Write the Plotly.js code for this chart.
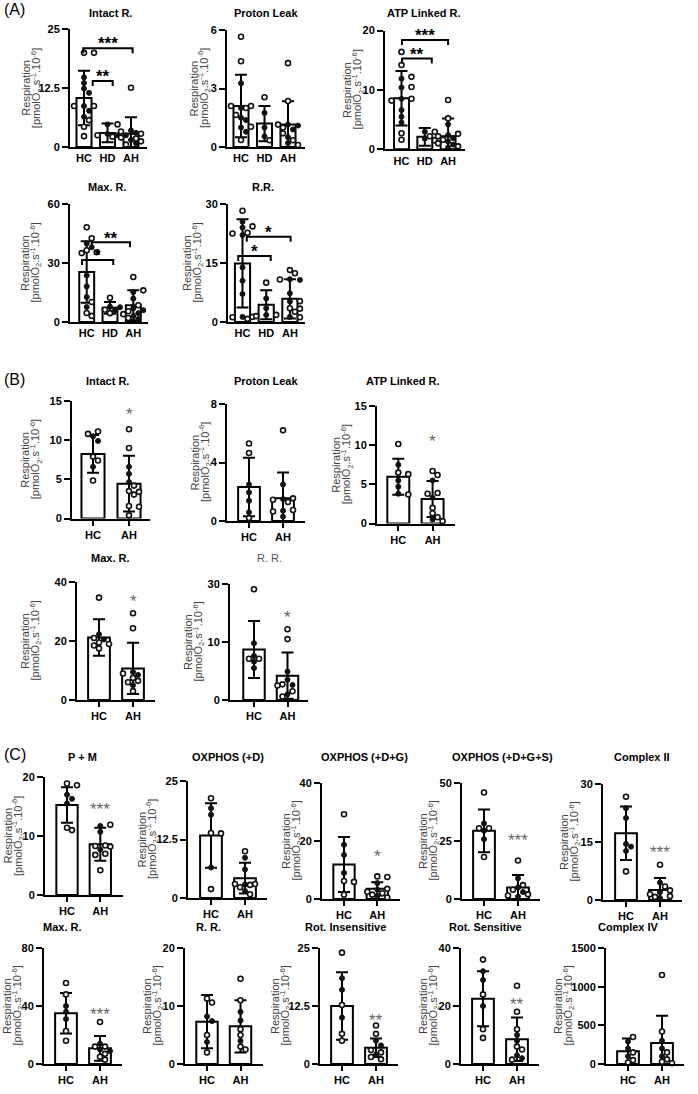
<!DOCTYPE html>
<html><head><meta charset="utf-8">
<script src="https://cdn.plot.ly/plotly-3.0.1.min.js"></script>
<style>html,body{margin:0;padding:0;background:#fff}#chart{width:698px;height:1094px}</style>
</head><body><div id="chart"></div>
<script>
// ---------------- DATA ----------------
const CAT3 = ['HC', 'HD', 'AH'];
const CAT2 = ['HC', 'AH'];

// Panel A
const aIntactMean = [10.4, 3.0, 2.8];
const aIntactSD = [5.8, 2.0, 3.5];
const aIntactOpen = [[20.0, 20.0, 8.7, 8.7, 5.7, 4.3, 2.3], [4.8, 2.5, 2.2], [12.6, 3.3, 2.8, 2.0, 1.8, 1.2, 0.5]];
const aIntactFilled = [[14.8, 13.6, 12.4, 11.5, 8.7, 7.7, 6.4], [4.8, 2.8, 2.5], [3.5, 3.0, 2.5, 1.5, 0.8]];

const aProtonMean = [2.1, 1.2, 1.15];
const aProtonSD = [1.6, 0.9, 1.2];
const aProtonOpen = [[5.65, 4.4, 2.1, 2.1, 2.0, 1.64, 1.04, 0.36], [2.55, 0.35], [4.3, 2.36, 1.15, 1.0, 0.7, 0.35, 0.1]];
const aProtonFilled = [[3.27, 2.0, 1.5, 1.38, 1.0, 0.78], [1.75, 1.0, 0.55], [1.15, 1.1, 0.9, 0.5, 0.2]];

const aAtpMean = [8.6, 2.1, 2.2];
const aAtpSD = [4.6, 1.5, 3.0];
const aAtpOpen = [[16.4, 14.2, 12.2, 10.5, 8.5, 8.2, 2.7, 1.6], [2.95, 2.2, 1.5], [8.3, 5.2, 2.6, 2.2, 1.6, 1.0, 0.5]];
const aAtpFilled = [[11.9, 10.4, 8.5, 6.6, 5.5, 4.5], [2.95, 1.8], [4.2, 2.4, 1.9, 1.3, 0.8, 0.3]];

const aMaxMean = [25.4, 7.2, 8.5];
const aMaxSD = [15.6, 3.0, 7.6];
const aMaxOpen = [[48.2, 42.6, 36.5, 35.5, 35.0, 10.2, 4.6, 3.1], [12.3, 6.2, 4.5], [22.9, 16.1, 8.5, 5.5, 4.0, 2.0]];
const aMaxFilled = [[40.0, 38.0, 23.7, 18.1, 12.7, 7.6], [7.8, 7.5, 5.8], [15.2, 11.9, 7.0, 6.0, 4.5, 3.0, 1.5]];

const aRRMean = [14.9, 4.4, 5.9];
const aRRSD = [11.2, 3.7, 5.0];
const aRROpen = [[28.3, 24.3, 22.7, 22.5, 1.3, 1.2, 0.8], [10.0, 1.8, 1.5], [13.2, 12.4, 10.8, 5.3, 3.5, 3.4, 2.6, 1.2]];
const aRRFilled = [[25.5, 24.0, 22.1, 13.9, 10.5, 7.1, 1.3], [6.0, 3.5, 1.8], [10.9, 10.7, 7.3, 5.2, 1.3]];

// Panel B
const bIntactMean = [8.25, 4.45];
const bIntactSD = [2.4, 3.55];
const bIntactOpen = [[11.1, 10.8, 7.9, 7.4, 4.85], [11.4, 9.0, 4.2, 3.5, 3.4, 3.05, 1.6, 1.5, 0.4]];
const bIntactFilled = [[10.5, 9.9, 6.6], [6.6, 5.7, 4.65]];

const bProtonMean = [2.33, 1.56];
const bProtonSD = [2.0, 1.75];
const bProtonOpen = [[5.3, 4.65, 0.2], [6.2, 1.55, 1.45, 1.3, 0.75, 0.65]];
const bProtonFilled = [[2.5, 1.95, 1.38, 0.6], [2.5, 1.5, 0.7, 0.3]];

const bAtpMean = [5.98, 3.12];
const bAtpSD = [2.3, 2.3];
const bAtpOpen = [[10.15, 6.5, 6.3, 3.7], [6.7, 6.2, 3.9, 3.8, 2.0, 1.3, 0.8, 0.3]];
const bAtpFilled = [[7.5, 5.5, 4.7, 3.8], [5.5, 3.3, 0.5]];

const bMaxMean = [21.2, 10.7];
const bMaxSD = [6.2, 8.7];
const bMaxOpen = [[34.7, 21.0, 19.5, 19.0, 18.5, 17.5], [29.4, 24.3, 9.0, 7.5, 6.5, 6.0, 3.0]];
const bMaxFilled = [[22.3, 20.5], [9.5, 8.5, 5.0]];

const bRRMean = [8.7, 4.2];
const bRRSD = [4.9, 4.0];
const bRROpen = [[19.1, 7.1, 7.1], [12.2, 10.5, 2.7, 2.5, 1.5, 0.6]];
const bRRFilled = [[9.8, 7.6, 6.6, 5.5], [4.9, 3.5, 2.6, 1.0]];
const bRRTickText = ['0', '10', '30'];

// Panel C, row 1
const cPMMean = [15.25, 8.6];
const cPMSD = [3.0, 2.8];
const cPMOpen = [[18.9, 18.6, 11.4, 11.0], [11.9, 8.4, 8.3, 8.2, 7.0, 6.8, 4.2]];
const cPMFilled = [[17.0, 16.3, 15.5], [11.7, 10.7, 7.7]];

const cDMean = [13.35, 4.24];
const cDSD = [6.9, 3.3];
const cDOpen = [[21.3, 13.9, 13.8, 1.9], [10.0, 3.0, 3.0, 2.8, 2.3, 0.8]];
const cDFilled = [[19.2, 17.8, 6.5], [8.6, 6.1, 2.9, 1.5]];

const cDGMean = [11.9, 3.5];
const cDGSD = [9.5, 2.3];
const cDGOpen = [[29.2, 6.2, 5.9, 1.5], [7.8, 7.6, 3.5, 2.5, 2.0, 1.5, 0.5]];
const cDGFilled = [[18.7, 15.2, 9.0], [5.5, 3.2, 1.0]];

const cDGSMean = [29.4, 5.0];
const cDGSSD = [9.2, 5.3];
const cDGSOpen = [[45.9, 30.5, 30.5, 18.1], [16.6, 6.0, 4.0, 2.0, 1.5]];
const cDGSFilled = [[32.6, 29.4, 25.8], [8.9, 5.0, 3.0, 1.0]];

const cC2Mean = [17.25, 2.6];
const cC2SD = [6.9, 3.1];
const cC2Open = [[26.7, 7.4], [9.1, 3.5, 2.5, 1.5, 1.0, 0.8]];
const cC2Filled = [[23.75, 21.2, 14.5, 13.8, 12.7], [4.5, 2.0, 0.5]];

// Panel C, row 2
const cMaxMean = [35.0, 10.8];
const cMaxSD = [14.0, 8.5];
const cMaxOpen = [[55.9, 48.0, 22.8, 16.0], [29.0, 12.0, 12.0, 7.0, 5.0, 3.0]];
const cMaxFilled = [[40.0, 36.0, 31.0], [14.0, 10.0, 9.0]];

const cRRMean = [7.3, 6.5];
const cRRSD = [4.6, 4.5];
const cRROpen = [[11.3, 10.6, 5.0, 2.0], [14.7, 11.0, 6.0, 5.0, 3.0, 2.5]];
const cRRFilled = [[8.2, 7.4, 3.8], [9.0, 7.5, 4.0]];

const cRIMean = [12.5, 3.5];
const cRISD = [7.3, 2.0];
const cRIOpen = [[24.0, 12.7, 6.5, 5.0], [8.3, 6.5, 3.0, 2.5, 1.5, 1.0]];
const cRIFilled = [[18.5, 16.0, 10.0], [5.0, 4.0, 2.0]];

const cRSMean = [22.5, 8.5];
const cRSSD = [9.5, 7.5];
const cRSOpen = [[36.0, 24.0, 12.0, 9.0], [27.0, 18.0, 12.0, 6.0, 5.0, 1.5]];
const cRSFilled = [[32.0, 29.0, 20.0], [10.0, 8.0, 3.0, 2.0]];

const cC4Mean = [165, 270];
const cC4SD = [165, 355];
const cC4Open = [[350, 150, 50, 20], [1150, 420, 150, 60, 30, 10]];
const cC4Filled = [[290, 200, 100], [300, 200, 100]];

// ---------------- LAYOUT SPEC (positions in px of a 698x1094 page) ----------------
const W = 698, H = 1094;
const FONT = 'Liberation Sans, Arial, Helvetica, sans-serif';
const panels = [
  {cats: CAT3, title: 'Intact R.', mean: aIntactMean, sd: aIntactSD, open: aIntactOpen, filled: aIntactFilled, ticks: [0, 12.5, 25],
   xL: 70, xR: 147, c0: 84, sp: 23.5, yTop: 29.3, yZero: 147, tx: 110, ty: 13, ytx: 31.5, xt: false,
   br: [{x1: 0.37, x2: 1.22, y: 14.0, t: '**'}, {x1: -0.03, x2: 2.07, y: 21.0, t: '***'}]},
  {cats: CAT3, title: 'Proton Leak', mean: aProtonMean, sd: aProtonSD, open: aProtonOpen, filled: aProtonFilled, ticks: [0, 3, 6],
   xL: 227, xR: 305, c0: 241, sp: 23.5, yTop: 30, yZero: 147, tx: 266, ty: 13, ytx: 199, xt: false},
  {cats: CAT3, title: 'ATP Linked R.', mean: aAtpMean, sd: aAtpSD, open: aAtpOpen, filled: aAtpFilled, ticks: [0, 10, 20],
   xL: 385, xR: 465, c0: 401.5, sp: 23.3, yTop: 30.5, yZero: 149.3, tx: 424, ty: 13, ytx: 352, xt: false,
   br: [{x1: 0.02, x2: 1.3, y: 15.3, t: '**'}, {x1: 0.02, x2: 2.0, y: 18.4, t: '***'}]},
  {cats: CAT3, title: 'Max. R.', mean: aMaxMean, sd: aMaxSD, open: aMaxOpen, filled: aMaxFilled, ticks: [0, 30, 60],
   xL: 70, xR: 148, c0: 86.7, sp: 23.3, yTop: 204, yZero: 322, tx: 107, ty: 187, ytx: 30, xt: false,
   br: [{x1: -0.2, x2: 1.14, y: 31.5, t: '*'}, {x1: 0.22, x2: 1.86, y: 40.5, t: '**'}]},
  {cats: CAT3, title: 'R.R.', mean: aRRMean, sd: aRRSD, open: aRROpen, filled: aRRFilled, ticks: [0, 15, 30],
   xL: 228, xR: 305, c0: 242.5, sp: 23.7, yTop: 204, yZero: 322, tx: 263, ty: 187, ytx: 192, xt: false,
   br: [{x1: -0.18, x2: 1.19, y: 16.8, t: '*'}, {x1: 0.18, x2: 2.03, y: 21.7, t: '*'}]},

  {cats: CAT2, title: 'Intact R.', mean: bIntactMean, sd: bIntactSD, open: bIntactOpen, filled: bIntactFilled, ticks: [0, 5, 10, 15],
   xL: 72, xR: 150, c0: 93, sp: 36, yTop: 401, yZero: 518.5, tx: 107, ty: 381, ytx: 30, xt: true, star: {t: '*', y: 13.7}},
  {cats: CAT2, title: 'Proton Leak', mean: bProtonMean, sd: bProtonSD, open: bProtonOpen, filled: bProtonFilled, ticks: [0, 4, 8],
   xL: 227, xR: 305, c0: 249, sp: 34, yTop: 404, yZero: 521, tx: 266, ty: 381, ytx: 199, xt: true},
  {cats: CAT2, title: 'ATP Linked R.', mean: bAtpMean, sd: bAtpSD, open: bAtpOpen, filled: bAtpFilled, ticks: [0, 5, 10, 15],
   xL: 377, xR: 455, c0: 398.3, sp: 34.3, yTop: 406, yZero: 523.5, tx: 403, ty: 381, ytx: 341, xt: true, star: {t: '*', y: 11.0}},
  {cats: CAT2, title: 'Max. R.', mean: bMaxMean, sd: bMaxSD, open: bMaxOpen, filled: bMaxFilled, ticks: [0, 20, 40],
   xL: 77, xR: 155, c0: 99, sp: 34, yTop: 582, yZero: 700, tx: 110, ty: 558, ytx: 30, xt: true, star: {t: '*', y: 34.5}},
  {cats: CAT2, title: 'R. R.', plain: true, mean: bRRMean, sd: bRRSD, open: bRROpen, filled: bRRFilled, ticks: [0, 10, 20], tickText: bRRTickText,
   xL: 230, xR: 308, c0: 254, sp: 33.5, yTop: 584, yZero: 700, tx: 269, ty: 558, ytx: 193, xt: true, star: {t: '*', y: 14.9}},

  {cats: CAT2, title: 'P + M', mean: cPMMean, sd: cPMSD, open: cPMOpen, filled: cPMFilled, ticks: [0, 10, 20],
   xL: 45, xR: 123, c0: 67, sp: 33.3, yTop: 777, yZero: 895, tx: 82, ty: 757, ytx: 12.5, xt: true, star: {t: '***', y: 15.1}},
  {cats: CAT2, title: 'OXPHOS (+D)', mean: cDMean, sd: cDSD, open: cDOpen, filled: cDFilled, ticks: [0, 12.5, 25],
   xL: 188, xR: 267, c0: 211, sp: 34, yTop: 781, yZero: 898, tx: 228, ty: 757, ytx: 146, xt: true},
  {cats: CAT2, title: 'OXPHOS (+D+G)', mean: cDGMean, sd: cDGSD, open: cDGOpen, filled: cDGFilled, ticks: [0, 20, 40],
   xL: 322, xR: 400, c0: 344, sp: 33.3, yTop: 783, yZero: 899, tx: 365, ty: 757, ytx: 291, xt: true, star: {t: '*', y: 15.9}},
  {cats: CAT2, title: 'OXPHOS (+D+G+S)', mean: cDGSMean, sd: cDGSSD, open: cDGSOpen, filled: cDGSFilled, ticks: [0, 25, 50],
   xL: 462, xR: 540, c0: 484, sp: 34, yTop: 783, yZero: 899, tx: 502, ty: 757, ytx: 428, xt: true, star: {t: '***', y: 27}},
  {cats: CAT2, title: 'Complex II', mean: cC2Mean, sd: cC2SD, open: cC2Open, filled: cC2Filled, ticks: [0, 15, 30],
   xL: 603, xR: 682, c0: 626, sp: 34, yTop: 784, yZero: 900, tx: 642, ty: 757, ytx: 569, xt: true, star: {t: '***', y: 13.25}},

  {cats: CAT2, title: 'Max. R.', mean: cMaxMean, sd: cMaxSD, open: cMaxOpen, filled: cMaxFilled, ticks: [0, 40, 80],
   xL: 44, xR: 122, c0: 66, sp: 34, yTop: 948, yZero: 1064, tx: 62, ty: 927, ytx: 12, xt: true, star: {t: '***', y: 36.5}},
  {cats: CAT2, title: 'R. R.', mean: cRRMean, sd: cRRSD, open: cRROpen, filled: cRRFilled, ticks: [0, 10, 20],
   xL: 185, xR: 263, c0: 207, sp: 33.5, yTop: 948, yZero: 1064, tx: 208, ty: 927, ytx: 152, xt: true},
  {cats: CAT2, title: 'Rot. Insensitive', mean: cRIMean, sd: cRISD, open: cRIOpen, filled: cRIFilled, ticks: [0, 12.5, 25],
   xL: 320, xR: 398, c0: 342, sp: 34, yTop: 948, yZero: 1064, tx: 345, ty: 927, ytx: 280, xt: true, star: {t: '**', y: 10.2}},
  {cats: CAT2, title: 'Rot. Sensitive', mean: cRSMean, sd: cRSSD, open: cRSOpen, filled: cRSFilled, ticks: [0, 20, 40],
   xL: 461, xR: 539, c0: 483, sp: 34, yTop: 948, yZero: 1064, tx: 485, ty: 927, ytx: 428, xt: true, star: {t: '**', y: 21.7}},
  {cats: CAT2, title: 'Complex IV', mean: cC4Mean, sd: cC4SD, open: cC4Open, filled: cC4Filled, ticks: [0, 500, 1000, 1500],
   xL: 606, xR: 684, c0: 628, sp: 34, yTop: 948, yZero: 1064, tx: 628, ty: 927, ytx: 563, xt: true},
];

const panelLetters = [{t: '(A)', y: 10}, {t: '(B)', y: 379}, {t: '(C)', y: 754}];

// ---------------- helpers ----------------
const fx = p => p / W;
const fy = p => 1 - p / H;

// simple beeswarm: returns points with horizontal pixel offsets (kept within +-2 steps)
function swarm(openVals, filledVals, ppu) {
  const pts = [];
  filledVals.forEach(v => pts.push({v: v, f: true}));
  openVals.forEach(v => pts.push({v: v, f: false}));
  pts.sort((a, b) => (a.f === b.f) ? b.v - a.v : (a.f ? -1 : 1));
  const placed = [], D = 5.4, step = 5;
  const cands = [0, 1, -1, 2, -2];
  pts.forEach(p => {
    let best = null, bestGap = -1, bestOx = 0;
    for (const k of cands) {
      const ox = k * step;
      let gap = Infinity;
      for (const q of placed) {
        const dx = ox - q.ox, dy = (p.v - q.v) * ppu;
        gap = Math.min(gap, Math.sqrt(dx * dx + dy * dy));
      }
      if (gap >= D) { best = ox; break; }
      if (gap > bestGap) { bestGap = gap; bestOx = ox; }
    }
    p.ox = best === null ? bestOx : best;
    placed.push(p);
  });
  return pts;
}

const traces = [], shapes = [], annotations = [];
const layout = {
  width: W, height: H, margin: {l: 0, r: 0, t: 0, b: 0},
  paper_bgcolor: '#ffffff', plot_bgcolor: 'rgba(0,0,0,0)', showlegend: false,
  font: {family: FONT, color: '#000'}
};

panels.forEach((p, i) => {
  const n = i + 1;
  const xk = n === 1 ? 'xaxis' : 'xaxis' + n;
  const yk = n === 1 ? 'yaxis' : 'yaxis' + n;
  const xr = n === 1 ? 'x' : 'x' + n;
  const yr = n === 1 ? 'y' : 'y' + n;
  const ymax = p.ticks[p.ticks.length - 1];
  const ppu = (p.yZero - p.yTop) / ymax;
  const idx = p.cats.map((c, k) => k);

  layout[xk] = {
    domain: [fx(p.xL), fx(p.xR)], range: [(p.xL - p.c0) / p.sp, (p.xR - p.c0) / p.sp],
    anchor: yr, tickvals: idx, ticktext: p.cats,
    ticks: p.xt ? 'outside' : '', ticklen: 5, tickwidth: 2, tickcolor: '#000',
    showline: true, linewidth: 2, linecolor: '#000', showgrid: false, zeroline: false,
    tickfont: {family: FONT, size: 11, color: '#000', weight: 'bold'}, fixedrange: true
  };
  layout[yk] = {
    domain: [fy(p.yZero), fy(p.yTop)], range: [0, ymax], anchor: xr,
    tickvals: p.ticks, ticktext: p.tickText || p.ticks.map(String),
    ticks: 'outside', ticklen: 6, tickwidth: 2, tickcolor: '#000',
    showline: true, linewidth: 2, linecolor: '#000', showgrid: false, zeroline: false,
    tickfont: {family: FONT, size: 11, color: '#000', weight: 'bold'}, fixedrange: true
  };

  traces.push({
    type: 'bar', x: idx, y: p.mean, xaxis: xr, yaxis: yr, width: 0.64,
    marker: {color: '#ffffff', line: {color: '#000', width: 2}},
    error_y: {type: 'data', array: p.sd, visible: true, color: '#000', thickness: 2, width: 6},
    hoverinfo: 'skip'
  });

  const fxs = [], fys = [], oxs = [], oys = [];
  p.cats.forEach((c, g) => {
    swarm(p.open[g] || [], p.filled[g] || [], ppu).forEach(pt => {
      const xv = g + pt.ox / p.sp;
      if (pt.f) { fxs.push(xv); fys.push(pt.v); } else { oxs.push(xv); oys.push(pt.v); }
    });
  });
  traces.push({type: 'scatter', mode: 'markers', x: fxs, y: fys, xaxis: xr, yaxis: yr, cliponaxis: false,
    marker: {symbol: 'circle', size: 5, color: '#111', line: {color: '#111', width: 1}}, hoverinfo: 'skip'});
  traces.push({type: 'scatter', mode: 'markers', x: oxs, y: oys, xaxis: xr, yaxis: yr, cliponaxis: false,
    marker: {symbol: 'circle', size: 5, color: '#ffffff', line: {color: '#111', width: 1.6}}, hoverinfo: 'skip'});

  // subplot title
  annotations.push({xref: 'paper', yref: 'paper', x: fx(p.tx), y: fy(p.ty), xanchor: 'center', yanchor: 'middle',
    showarrow: false, text: p.plain ? p.title : '<b>' + p.title + '</b>',
    font: {family: FONT, size: 11, color: p.plain ? '#555' : '#000'}});

  // y-axis title (two rotated lines)
  const yc = fy((p.yTop + p.yZero) / 2);
  annotations.push({xref: 'paper', yref: 'paper', x: fx(p.ytx - 5), y: yc, xanchor: 'center', yanchor: 'middle',
    showarrow: false, textangle: -90, text: 'Respiration', font: {family: FONT, size: 11, color: '#444'}});
  annotations.push({xref: 'paper', yref: 'paper', x: fx(p.ytx + 5.5), y: yc, xanchor: 'center', yanchor: 'middle',
    showarrow: false, textangle: -90, text: '[pmolO<sub>2</sub>.s<sup>-1</sup>.10<sup>-6</sup>]',
    font: {family: FONT, size: 11, color: '#444'}});

  // significance brackets (panel A)
  (p.br || []).forEach(b => {
    const t = 5 / ppu;
    shapes.push({type: 'path', xref: xr, yref: yr,
      path: `M ${b.x1},${b.y - t} L ${b.x1},${b.y} L ${b.x2},${b.y} L ${b.x2},${b.y - t}`,
      line: {color: '#000', width: 2}});
    annotations.push({xref: xr, yref: yr, x: (b.x1 + b.x2) / 2, y: b.y, xanchor: 'center', yanchor: 'middle',
      showarrow: false, text: '<b>' + b.t + '</b>', yshift: 8 - 0.22 * 17,
      font: {family: FONT, size: 17, color: '#000'}});
  });
  // significance stars (panels B, C)
  if (p.star) {
    annotations.push({xref: xr, yref: yr, x: 1, y: p.star.y, xanchor: 'center', yanchor: 'middle',
      showarrow: false, text: p.star.t, yshift: -0.22 * 17,
      font: {family: FONT, size: 17, color: '#666'}});
  }
});

panelLetters.forEach(l => annotations.push({xref: 'paper', yref: 'paper', x: fx(2), y: fy(l.y), xanchor: 'left', yanchor: 'middle',
  showarrow: false, text: l.t, font: {family: FONT, size: 16, color: '#000'}}));

layout.shapes = shapes;
layout.annotations = annotations;
Plotly.newPlot('chart', traces, layout, {staticPlot: true, displayModeBar: false});
</script>
</body></html>
